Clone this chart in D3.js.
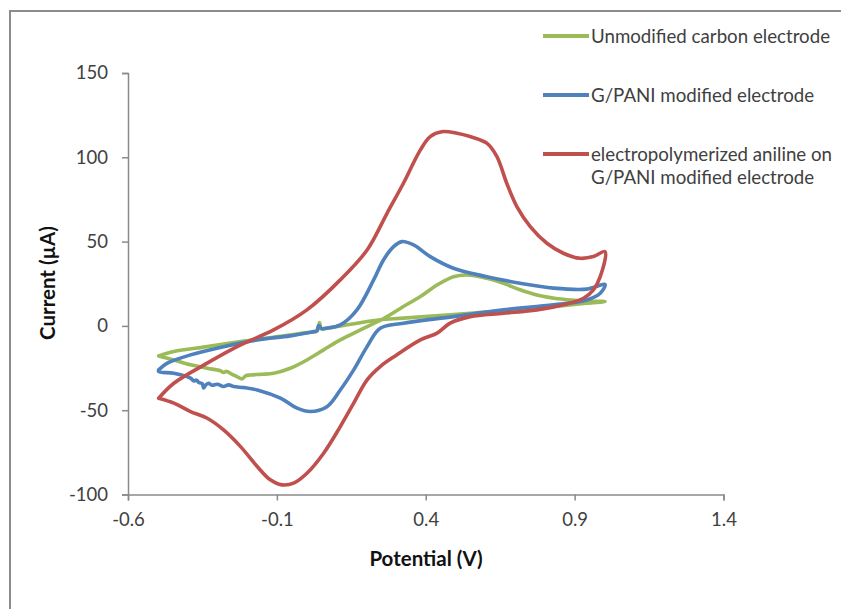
<!DOCTYPE html>
<html>
<head>
<meta charset="utf-8">
<script src="https://cdn.jsdelivr.net/npm/d3@7"></script>
<style>
  html, body { margin: 0; padding: 0; background: #fff; }
  svg { display: block; }
  text { font-family: Lato, "Open Sans", sans-serif; }
</style>
</head>
<body>
<svg id="chart" width="841" height="609"></svg>
<script>
// Cyclic voltammograms: [potential (V), current (µA)] along each scan loop
const unmodifiedCarbon = [
  [-0.497, -17.8], [-0.446, -20.2], [-0.39, -23.1], [-0.334, -25.1], [-0.29, -26.6],
  [-0.279, -27.6], [-0.268, -27.0], [-0.25, -28.8], [-0.234, -30.1], [-0.217, -31.4],
  [-0.205, -29.6], [-0.189, -29.1], [-0.15, -28.7], [-0.111, -28.1], [-0.055, -25.1],
  [0.001, -20.2], [0.057, -14.2], [0.113, -8.3], [0.169, -3.4], [0.214, 0.5],
  [0.26, 4.5], [0.325, 11.5], [0.382, 17.4], [0.438, 24.3], [0.493, 29.2],
  [0.538, 30.2], [0.605, 28.2], [0.661, 25.3], [0.717, 21.4], [0.773, 18.4],
  [0.862, 15.8], [0.941, 14.8], [1.002, 14.4],
  [0.941, 13.5], [0.773, 10.5], [0.549, 7.5], [0.325, 4.6], [0.247, 3.6],
  [0.169, 1.6], [0.068, -1.4], [0.05, -1.8], [0.043, 2.0], [0.036, -2.8],
  [0.001, -4.0], [-0.111, -6.7], [-0.222, -9.3], [-0.334, -12.3], [-0.446, -15.2],
  [-0.497, -17.8]
];

const gPaniElectrode = [
  [-0.497, -26.1], [-0.468, -22.1], [-0.39, -17.2], [-0.279, -12.3], [-0.166, -8.3],
  [-0.055, -5.9], [0.023, -3.4], [0.034, -3.0], [0.04, 0.2], [0.05, -1.6],
  [0.063, -1.4], [0.113, 0.6], [0.169, 9.5], [0.225, 27.3], [0.258, 39.1],
  [0.292, 47.0], [0.32, 50.0], [0.359, 48.0], [0.415, 41.1], [0.493, 34.2],
  [0.605, 29.2], [0.717, 25.3], [0.829, 22.4], [0.941, 21.8], [1.002, 24.6],
  [0.986, 19.4], [0.941, 15.4], [0.829, 12.5], [0.661, 9.5], [0.493, 5.5],
  [0.325, 1.6], [0.247, -1.4], [0.203, -12.3], [0.158, -26.1], [0.113, -38.0],
  [0.068, -47.9], [0.012, -50.8], [-0.032, -48.8], [-0.088, -42.9], [-0.166, -38.0],
  [-0.21, -36.6], [-0.245, -36.0], [-0.262, -35.0], [-0.279, -35.9], [-0.3, -34.6],
  [-0.318, -35.2], [-0.33, -34.0], [-0.34, -35.3], [-0.346, -36.8], [-0.351, -34.2],
  [-0.362, -33.6], [-0.37, -32.2], [-0.379, -32.6], [-0.39, -31.0], [-0.446, -28.1],
  [-0.497, -27.1], [-0.497, -26.1]
];

const electropolymerizedAniline = [
  [-0.497, -42.9], [-0.446, -34.0], [-0.334, -22.1], [-0.222, -11.3], [-0.111, -2.4],
  [0.001, 9.5], [0.113, 27.3], [0.203, 45.0], [0.27, 66.8], [0.325, 84.6],
  [0.382, 104.4], [0.415, 112.3], [0.454, 115.2], [0.505, 114.3], [0.549, 112.3],
  [0.605, 108.4], [0.639, 100.4], [0.672, 84.6], [0.706, 70.8], [0.751, 58.9],
  [0.807, 49.0], [0.862, 43.1], [0.918, 40.1], [0.963, 41.1], [1.002, 44.1],
  [0.986, 29.2], [0.963, 21.4], [0.93, 16.4], [0.862, 12.5], [0.773, 9.5],
  [0.661, 7.5], [0.549, 5.5], [0.482, 1.6], [0.438, -4.3], [0.382, -8.3],
  [0.3, -17.5], [0.247, -24.1], [0.203, -32.0], [0.158, -45.8], [0.113, -59.7],
  [0.057, -75.5], [0.001, -87.4], [-0.044, -93.3], [-0.083, -94.3], [-0.122, -91.3],
  [-0.166, -83.4], [-0.222, -71.6], [-0.279, -61.7], [-0.334, -54.8], [-0.39, -50.8],
  [-0.446, -45.8], [-0.497, -42.9]
];

const seriesNames = [
  ["Unmodified carbon electrode"],
  ["G/PANI modified electrode"],
  ["electropolymerized aniline on", "G/PANI modified electrode"]
];
const seriesColors = ["#9BBB59", "#4F81BD", "#C0504D"];
const seriesData = [unmodifiedCarbon, gPaniElectrode, electropolymerizedAniline];

const xTicks = [-0.6, -0.1, 0.4, 0.9, 1.4];
const yTicks = [-100, -50, 0, 50, 100, 150];

const svg = d3.select("#chart");

// outer frame of the chart area
svg.append("rect")
  .attr("x", 10).attr("y", 11)
  .attr("width", 900).attr("height", 700)
  .attr("fill", "none").attr("stroke", "#8c8c8c").attr("stroke-width", 2);

const x = d3.scaleLinear().domain([-0.6, 1.4]).range([128, 723.5]);
const y = d3.scaleLinear().domain([-100, 150]).range([494.5, 73]);

const axisColor = "#8a8a8a";
const labelColor = "#404040";
const minus = s => s.replace("−", "-");

// y axis
const yAxis = svg.append("g")
  .attr("transform", `translate(${x(-0.6)},0)`)
  .call(d3.axisLeft(y).tickValues(yTicks).tickSize(6).tickPadding(14)
    .tickFormat(d => minus(d3.format("d")(d))));
// x axis along the bottom (-100 µA)
const xAxis = svg.append("g")
  .attr("transform", `translate(0,${y(-100)})`)
  .call(d3.axisBottom(x).tickValues(xTicks).tickSize(6).tickPadding(12)
    .tickFormat(d => minus(d3.format(".1f")(d))));

for (const g of [xAxis, yAxis]) {
  g.select(".domain").attr("stroke", axisColor).attr("stroke-width", 1.5);
  g.selectAll(".tick line").attr("stroke", axisColor).attr("stroke-width", 1.5);
  g.selectAll(".tick text")
    .attr("fill", labelColor)
    .style("font-size", "18.5px")
    .style("font-family", "Lato, sans-serif");
}

// axis titles
svg.append("text")
  .attr("x", 426).attr("y", 566)
  .attr("text-anchor", "middle")
  .attr("fill", "#111")
  .style("font-size", "20.5px").style("font-weight", "bold")
  .text("Potential (V)");

svg.append("text")
  .attr("transform", "translate(55,283) rotate(-90)")
  .attr("text-anchor", "middle")
  .attr("fill", "#111")
  .style("font-size", "20.5px").style("font-weight", "bold")
  .text("Current (µA)");

// voltammogram loops
const line = d3.line()
  .x(d => x(d[0]))
  .y(d => y(d[1]))
  .curve(d3.curveCatmullRom.alpha(0.5));

svg.append("g").selectAll("path")
  .data(seriesData)
  .join("path")
  .attr("d", line)
  .attr("fill", "none")
  .attr("stroke", (d, i) => seriesColors[i])
  .attr("stroke-width", 3.6)
  .attr("stroke-linejoin", "round")
  .attr("stroke-linecap", "round");

// legend
const legendRows = [36, 95, 154];
const legend = svg.append("g");
seriesNames.forEach((lines, i) => {
  const ly = legendRows[i];
  legend.append("line")
    .attr("x1", 543).attr("x2", 589)
    .attr("y1", ly).attr("y2", ly)
    .attr("stroke", seriesColors[i]).attr("stroke-width", 4);
  lines.forEach((t, j) => {
    legend.append("text")
      .attr("x", 591).attr("y", ly + 6.5 + j * 23.5)
      .attr("fill", labelColor)
      .style("font-size", "18.7px")
      .text(t);
  });
});
</script>
</body>
</html>
